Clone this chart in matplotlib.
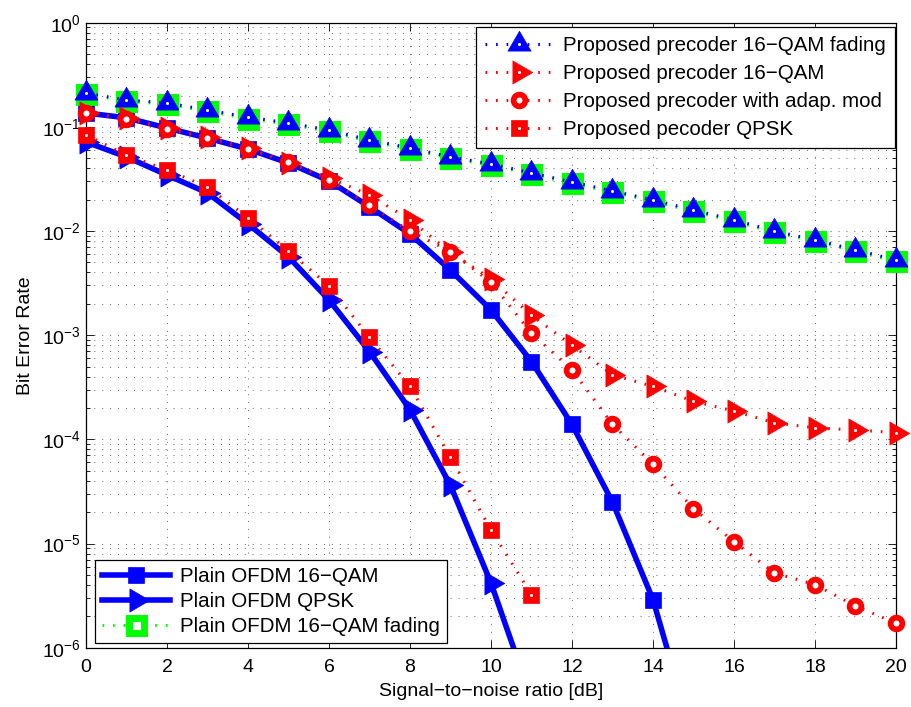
import numpy as np
import matplotlib
matplotlib.use("Agg")
import matplotlib.pyplot as plt
from matplotlib.path import Path
from matplotlib.legend_handler import HandlerTuple
from matplotlib.ticker import NullFormatter, LogLocator

plt.rcParams['font.family'] = ['Liberation Sans', 'DejaVu Sans']
plt.rcParams['axes.unicode_minus'] = True

# ====== data ======
snr = np.arange(0, 21)

prop_16qam_fading = [0.211, 0.181, 0.170, 0.145, 0.124, 0.109, 0.0933, 0.0748, 0.0628, 0.0514,
                     0.0441, 0.0361, 0.0296, 0.0243, 0.0199, 0.0159, 0.0128, 0.0100, 0.00822,
                     0.00659, 0.00529]
plain_16qam_fading = [0.205, 0.176, 0.165, 0.141, 0.120, 0.106, 0.0905, 0.0725, 0.0610, 0.0500,
                      0.0428, 0.0350, 0.0287, 0.0236, 0.0193, 0.0154, 0.0124, 0.0097, 0.0080,
                      0.0064, 0.0051]
prop_16qam = [0.136, 0.122, 0.0975, 0.0799, 0.0627, 0.0450, 0.0323, 0.0222, 0.0128, 0.00625,
              0.00346, 0.00155, 8.03e-4, 4.16e-4, 3.23e-4, 2.32e-4, 1.87e-4, 1.44e-4, 1.29e-4,
              1.23e-4, 1.16e-4]
prop_adapt = [0.136, 0.119, 0.0951, 0.0780, 0.0612, 0.0461, 0.0310, 0.0176, 0.00998, 0.00635,
              0.00322, 1.04e-3, 4.65e-4, 1.39e-4, 5.80e-5, 2.16e-5, 1.04e-5, 5.21e-6, 4.03e-6,
              2.51e-6, 1.72e-6]
snr_qpsk = np.arange(0, 12)
prop_qpsk = [0.0836, 0.0537, 0.0386, 0.0265, 0.0134, 0.00644, 0.00297, 9.53e-4, 3.23e-4,
             6.70e-5, 1.35e-5, 3.23e-6]
plain_qpsk = [0.0716, 0.0514, 0.0345, 0.0232, 0.0117, 0.00564, 0.00218, 6.96e-4, 1.93e-4,
              3.61e-5, 4.18e-6, 3.2e-7]
snr_16 = np.arange(0, 16)
plain_16qam = [0.136, 0.122, 0.0975, 0.0780, 0.0612, 0.0450, 0.0303, 0.0171, 0.00938, 0.00421,
               0.00175, 5.58e-4, 1.39e-4, 2.50e-5, 2.90e-6, 1.3e-7]

# matlab style triangles, centred on the centroid
tri_up = Path([(0, 1), (-0.875, -0.5), (0.875, -0.5), (0, 1)], closed=True)
tri_right = Path([(1, 0), (-0.5, 0.875), (-0.5, -0.875), (1, 0)], closed=True)

blue = (0, 0, 1)
red = (1, 0, 0)
green = (0, 1, 0)
dotted = (0, (0.55, 2.9))

fig = plt.figure(figsize=(9.11, 7.07), dpi=100)
ax = fig.add_axes([0.0944, 0.0839, 0.8891, 0.884])


def series(x, y, color, lw, ls, marker, ms, z, mfc=None, mew=0.5, n=None, dot=False):
    # line is clipped, markers are not (like matlab)
    ln, = ax.plot(x, y, color=color, lw=lw, ls=ls, zorder=z)
    mk, = ax.plot(x[:n], y[:n], ls='none', color=color, marker=marker, ms=ms,
                  mfc=mfc if mfc else color, mew=mew, clip_on=False, zorder=z + 0.01)
    parts = [ln, mk]
    if dot:
        d, = ax.plot(x[:n], y[:n], ls='none', marker='o', ms=2.2, mfc='white', mec='none',
                     clip_on=False, zorder=z + 0.02)
        parts.append(d)
    return tuple(parts)


h_p16 = series(snr_16, plain_16qam, blue, 4, '-', 's', 11, 3.0, n=15)
h_pq = series(snr_qpsk, plain_qpsk, blue, 4, '-', tri_right, 19, 3.1, n=11)
h_pf = series(snr, plain_16qam_fading, green, 2.2, dotted, 's', 10.8, 3.2, mfc='white', mew=5)
h_ff = series(snr, prop_16qam_fading, blue, 2.2, dotted, tri_up, 19, 3.3, dot=True)
h_f16 = series(snr, prop_16qam, red, 2.2, dotted, tri_right, 19, 3.4, dot=True)
h_fa = series(snr, prop_adapt, red, 2.2, dotted, 'o', 8.5, 3.5, mfc='white', mew=4.1)
h_fq = series(snr_qpsk, prop_qpsk, red, 2.2, dotted, 's', 11, 3.6, dot=True)

ax.set_yscale('log')
ax.set_xlim(0, 20)
ax.set_ylim(1e-6, 1)
ax.set_xticks(np.arange(0, 21, 2))
ax.set_yticks([1e-6, 1e-5, 1e-4, 1e-3, 1e-2, 1e-1, 1e0])
ax.yaxis.set_minor_locator(LogLocator(base=10, subs=np.arange(2, 10)))
ax.yaxis.set_minor_formatter(NullFormatter())

gkw = dict(color='0.2', lw=0.6, ls=(0, (1, 8.5)))
ax.grid(True, which='major', axis='both', **gkw)
ax.grid(True, which='minor', axis='y', **gkw)
ax.set_axisbelow(True)

ax.tick_params(which='both', direction='in', top=True, right=True, labelsize=14, width=0.6)
ax.tick_params(which='major', length=6)
ax.tick_params(which='minor', length=3)
ax.tick_params(axis='x', pad=8)
for sp in ax.spines.values():
    sp.set_linewidth(0.9)

ax.set_xlabel('Signal\u2212to\u2212noise ratio [dB]', fontsize=14, labelpad=5)
ax.set_ylabel('Bit Error Rate', fontsize=14, labelpad=6)

hmap = {tuple: HandlerTuple(ndivide=1)}
leg1 = ax.legend([h_ff, h_f16, h_fa, h_fq],
                 ['Proposed precoder 16\u2212QAM fading', 'Proposed precoder 16\u2212QAM',
                  'Proposed precoder with adap. mod', 'Proposed pecoder QPSK'],
                 handler_map=hmap, loc='upper right', bbox_to_anchor=(0.9988, 0.9931),
                 borderaxespad=0, fontsize=14.8, handlelength=3.3, labelspacing=0.43,
                 fancybox=False, framealpha=1, edgecolor='black', borderpad=0.45,
                 handletextpad=0.5)
leg1.get_frame().set_linewidth(0.9)
ax.add_artist(leg1)

leg2 = ax.legend([h_p16, h_pq, h_pf],
                 ['Plain OFDM 16\u2212QAM', 'Plain OFDM QPSK', 'Plain OFDM 16\u2212QAM fading'],
                 handler_map=hmap, loc='lower left', bbox_to_anchor=(0.0111, 0.0075),
                 borderaxespad=0, fontsize=14.8, handlelength=3.3, labelspacing=0.28,
                 fancybox=False, framealpha=1, edgecolor='black', borderpad=0.35,
                 handletextpad=0.5)
leg2.get_frame().set_linewidth(0.9)

fig.savefig('out.png', dpi=100, facecolor='white')
